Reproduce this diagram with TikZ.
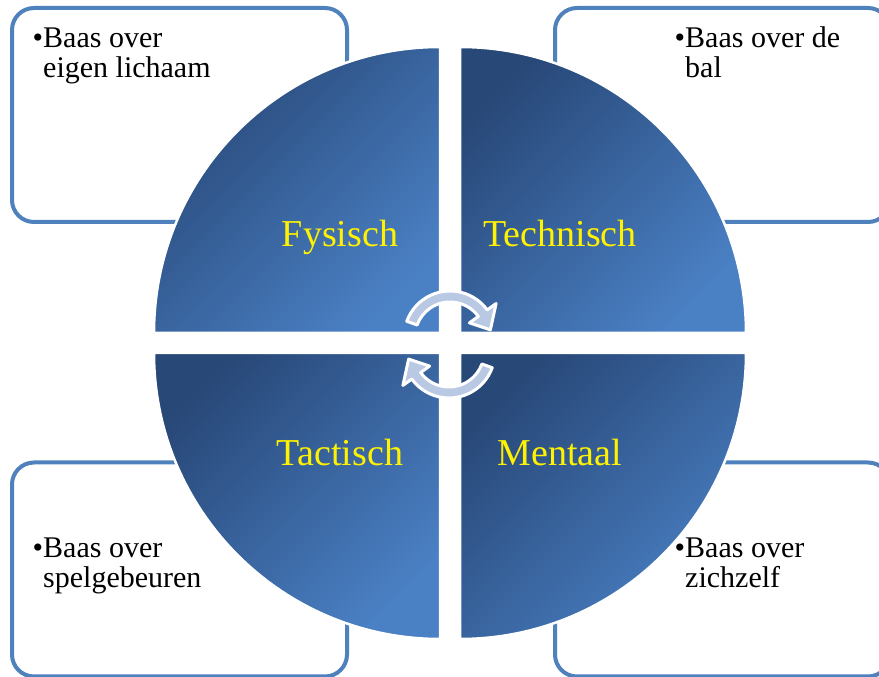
\documentclass[tikz,border=0pt]{standalone}
\usepackage{fontspec}
\setmainfont{Liberation Serif}
\usetikzlibrary{calc}

\definecolor{kaderblauw}{RGB}{79,129,189}
\definecolor{kwartdonker}{RGB}{40,72,120}
\definecolor{kwartlicht}{RGB}{74,128,196}
\definecolor{pijlblauw}{RGB}{185,201,227}

\begin{document}
\begin{tikzpicture}[
            x=1pt, y=1pt, % werken in beeldpunten
            kader/.style={
                draw=kaderblauw, % blauwe rand
                line width=4pt, % dikte van de rand
                rounded corners=22pt, % afgeronde hoeken
                fill=white,
                minimum width=335pt,
                minimum height=214pt,
                inner sep=0
            },
            kwart/.style={
                draw=white, % witte rand rond elk kwart
                line width=2.5pt,
                top color=kwartdonker, % verloop van donker
                bottom color=kwartlicht, % naar licht
                shading angle=45
            },
            kop/.style={anchor=base, inner sep=0, text=yellow, font=\fontsize{38}{40}\selectfont}, % titels in de cirkel
            punt/.style={anchor=base west, align=left, inner sep=0, font=\fontsize{30}{30}\selectfont}, % tekst in de kaders
            draaipijl/.style={draw=white, line width=3pt, fill=pijlblauw, line join=round} % pijlen in het midden
        ]

        \clip (0,0) rectangle (879,677);

        % de vier kaders
        \node[kader] (fyskader) at (179.5,562) {};
        \node[kader] (techkader) at (722.5,562) {};
        \node[kader] (tactkader) at (179.5,107.5) {};
        \node[kader] (mentkader) at (722.5,107.5) {};

        % hoekpunten van de kwarten
        \coordinate (fyshoek) at (440,344);
        \coordinate (techhoek) at (460,344);
        \coordinate (tacthoek) at (440,324);
        \coordinate (menthoek) at (460,324);

        % de vier kwarten van de cirkel
        \shadedraw[kwart] (fyshoek) -- ++(-286,0) arc[start angle=180, end angle=90, radius=286] -- cycle;
        \shadedraw[kwart] (techhoek) -- ++(0,286) arc[start angle=90, end angle=0, radius=286] -- cycle;
        \shadedraw[kwart] (tacthoek) -- ++(-286,0) arc[start angle=180, end angle=270, radius=286] -- cycle;
        \shadedraw[kwart] (menthoek) -- ++(0,-286) arc[start angle=270, end angle=360, radius=286] -- cycle;

        % titels
        \node[kop] (fyskop) at (340,430) {Fysisch};
        \node[kop] (techkop) at (560,430) {Technisch};
        \node[kop] (tactkop) at (340,211) {Tactisch};
        \node[kop] (mentkop) at (560,211) {Mentaal};

        % draaiende pijlen
        \coordinate (bovenmidden) at (450,340);
        \coordinate (ondermidden) at (449,325);
        \filldraw[draaipijl] ($(bovenmidden)+(160:46)$) arc[start angle=160, end angle=36, radius=46]
            -- ($(bovenmidden)+(36:57)$) -- ($(bovenmidden)+(10:41)$) -- ($(bovenmidden)+(36:24)$)
            -- ($(bovenmidden)+(36:35)$) arc[start angle=36, end angle=160, radius=35] -- cycle;
        \filldraw[draaipijl] ($(ondermidden)+(340:46)$) arc[start angle=340, end angle=216, radius=46]
            -- ($(ondermidden)+(216:57)$) -- ($(ondermidden)+(190:41)$) -- ($(ondermidden)+(216:24)$)
            -- ($(ondermidden)+(216:35)$) arc[start angle=216, end angle=340, radius=35] -- cycle;

        % tekst in de kaders (basislijn van de laatste regel)
        \node[punt] (fystekst) at (43,599) {\llap{•}Baas over\\eigen lichaam};
        \node[punt] (techtekst) at (685,599) {\llap{•}Baas over de\\bal};
        \node[punt] (tacttekst) at (43,89) {\llap{•}Baas over\\spelgebeuren};
        \node[punt] (menttekst) at (685,89) {\llap{•}Baas over\\zichzelf};
        \end{tikzpicture}
\end{document}
